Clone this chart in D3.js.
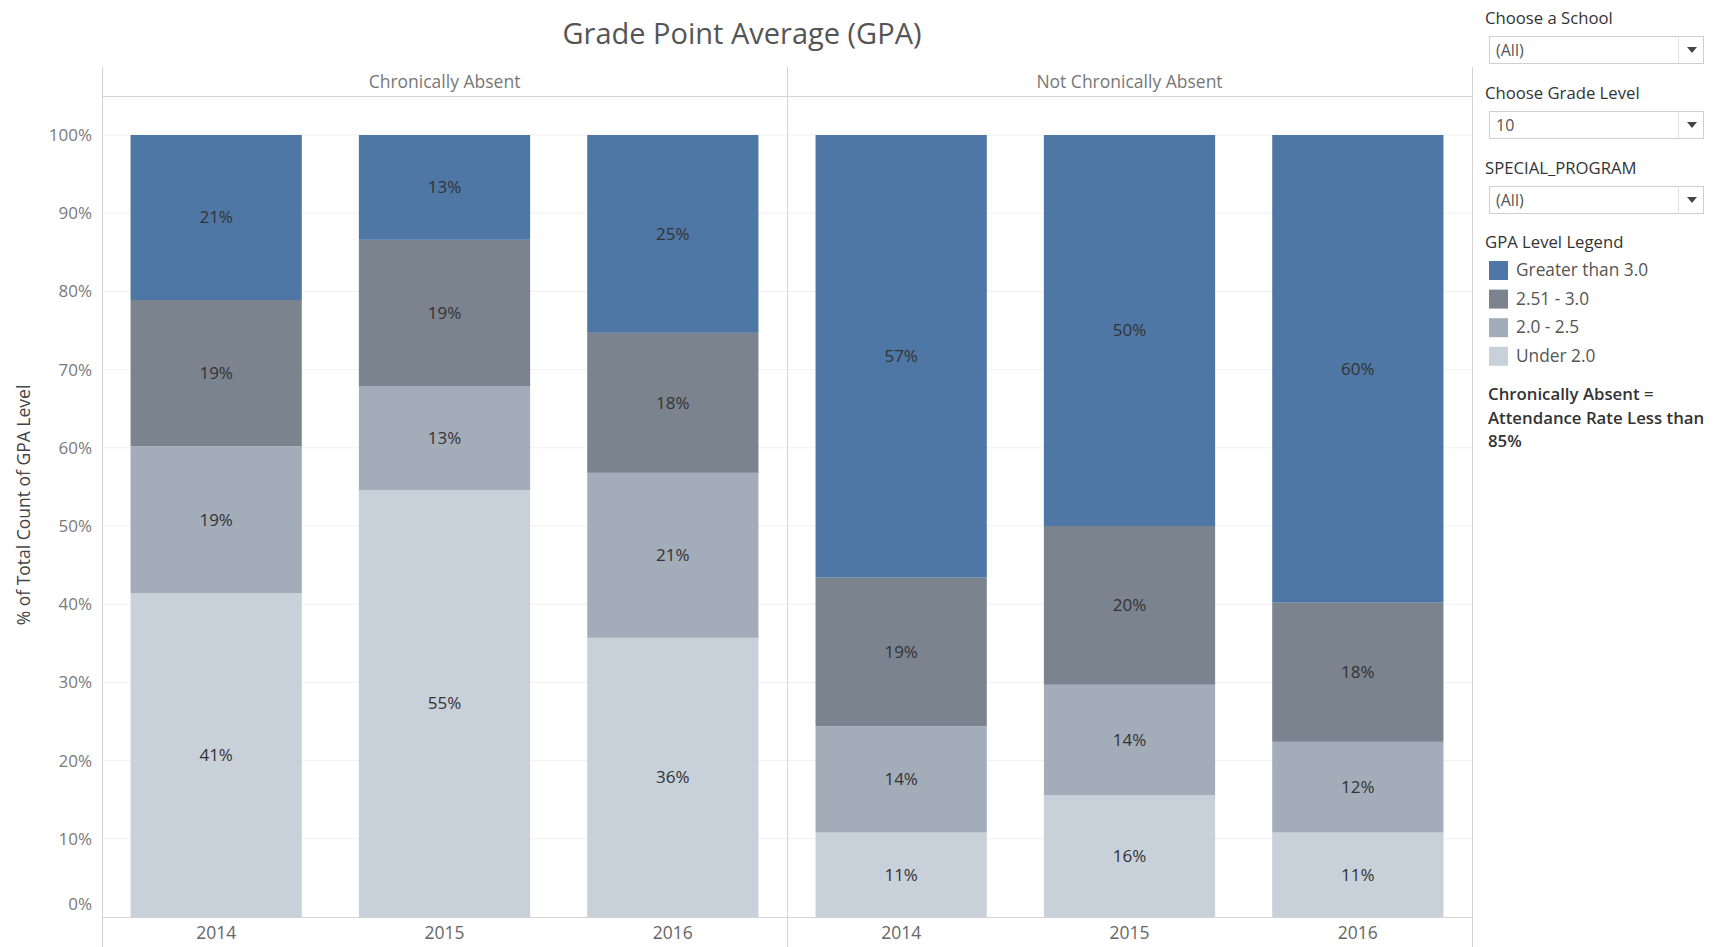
<!DOCTYPE html>
<html>
<head>
<meta charset="utf-8">
<script src="https://cdn.jsdelivr.net/npm/d3@7"></script>
<style>
  html, body { margin: 0; padding: 0; background: #fff; }
  svg { display: block; }
  text { font-family: "Open Sans", Lato, sans-serif; }
</style>
</head>
<body>
<svg id="chart" width="1716" height="947"></svg>
<script>
// ---- data ----
const panels = ["Chronically Absent", "Not Chronically Absent"];
const years = ["2014", "2015", "2016"];
const levels = ["Under 2.0", "2.0 - 2.5", "2.51 - 3.0", "Greater than 3.0"];
const legendOrder = ["Greater than 3.0", "2.51 - 3.0", "2.0 - 2.5", "Under 2.0"];
const levelColors = ["#c8d0da", "#a3acb9", "#7b838f", "#4e77a5"];
// percentages per year, ordered as levels (bottom -> top)
const chronicallyAbsent = [
  [41.4, 18.8, 18.7, 21.1],
  [54.6, 13.3, 18.7, 13.4],
  [35.7, 21.1, 17.9, 25.3]
];
const notChronicallyAbsent = [
  [10.8, 13.6, 19.0, 56.6],
  [15.6, 14.1, 20.3, 50.0],
  [10.8, 11.6, 17.8, 59.8]
];
const yTicks = [0, 10, 20, 30, 40, 50, 60, 70, 80, 90, 100];
const filters = [
  {label: "Choose a School", value: "(All)"},
  {label: "Choose Grade Level", value: "10"},
  {label: "SPECIAL_PROGRAM", value: "(All)"}
];
const noteLines = ["Chronically Absent =", "Attendance Rate Less than", "85%"];

// ---- layout ----
const svg = d3.select("#chart");
const plotLeft = 102, plotRight = 1472;
const headerTop = 67, headerBottom = 96;
const yTop = 135, yBottom = 917;
const FONT = "'Open Sans', Lato, sans-serif";

const y = d3.scaleLinear().domain([0, 100]).range([yBottom, yTop]);
const xPanel = d3.scaleBand().domain(panels).range([plotLeft, plotRight]);
const xYear = d3.scaleBand().domain(years).range([0, xPanel.bandwidth()]).paddingInner(0.25).paddingOuter(0.125);
const color = d3.scaleOrdinal().domain(levels).range(levelColors);

// title
svg.append("text")
  .attr("x", 742).attr("y", 44)
  .attr("text-anchor", "middle")
  .attr("font-size", 29)
  .attr("fill", "#555")
  .text("Grade Point Average (GPA)");

// gridlines
svg.append("g").selectAll("line").data(yTicks.filter(d => d > 0)).join("line")
  .attr("x1", plotLeft).attr("x2", plotRight)
  .attr("y1", d => y(d)).attr("y2", d => y(d))
  .attr("stroke", "#f0f0f0").attr("stroke-width", 1);

// header line
svg.append("line")
  .attr("x1", plotLeft).attr("x2", plotRight)
  .attr("y1", headerBottom + 0.5).attr("y2", headerBottom + 0.5)
  .attr("stroke", "#d4d4d4");

// panel headers
svg.append("g").selectAll("text").data(panels).join("text")
  .attr("x", d => xPanel(d) + xPanel.bandwidth() / 2)
  .attr("y", 88)
  .attr("text-anchor", "middle")
  .attr("font-size", 17.5)
  .attr("fill", "#777")
  .text(d => d);

// bars
const stack = d3.stack().keys(d3.range(levels.length));
panels.forEach((p, pi) => {
  const data = pi === 0 ? chronicallyAbsent : notChronicallyAbsent;
  const series = stack(data);
  const g = svg.append("g").attr("transform", `translate(${xPanel(p)},0)`);
  series.forEach((s, li) => {
    g.selectAll(null).data(s).join("rect")
      .attr("x", (d, i) => xYear(years[i]))
      .attr("width", xYear.bandwidth())
      .attr("y", d => y(d[1]))
      .attr("height", d => y(d[0]) - y(d[1]))
      .attr("fill", color(levels[li]));
    g.selectAll(null).data(s).join("text")
      .attr("x", (d, i) => xYear(years[i]) + xYear.bandwidth() / 2)
      .attr("y", d => (y(d[0]) + y(d[1])) / 2)
      .attr("dy", "0.35em")
      .attr("text-anchor", "middle")
      .attr("font-size", 17)
      .attr("fill", "#333")
      .text((d, i) => Math.round(data[i][li]) + "%");
  });
  // year axis labels
  const ax = d3.axisBottom(xYear).tickSize(0).tickPadding(10);
  const axg = g.append("g").attr("transform", `translate(0,${yBottom})`).call(ax);
  axg.select(".domain").remove();
  axg.selectAll("text").attr("font-size", 17.5).attr("fill", "#666")
    .attr("font-family", FONT);
});

// bottom axis line
svg.append("line")
  .attr("x1", plotLeft).attr("x2", plotRight)
  .attr("y1", yBottom + 0.5).attr("y2", yBottom + 0.5)
  .attr("stroke", "#d4d4d4");

// vertical borders
[plotLeft, xPanel(panels[1]), plotRight].forEach(xv => {
  svg.append("line")
    .attr("x1", xv + 0.5).attr("x2", xv + 0.5)
    .attr("y1", headerTop).attr("y2", 947)
    .attr("stroke", "#d4d4d4");
});

// y axis
const yAxis = d3.axisLeft(y).tickValues(yTicks).tickFormat(d => d + "%").tickSize(0).tickPadding(10);
const yg = svg.append("g").attr("transform", `translate(${plotLeft},0)`).call(yAxis);
yg.select(".domain").remove();
yg.selectAll("text").attr("font-size", 17).attr("fill", "#7a7a7a")
  .attr("font-family", FONT)
  .attr("dy", d => d === 0 ? "-0.45em" : "0.32em");

// y axis title
svg.append("text")
  .attr("transform", `translate(30,505) rotate(-90)`)
  .attr("text-anchor", "middle")
  .attr("font-size", 17.5)
  .attr("fill", "#444")
  .text("% of Total Count of GPA Level");

// ---- right side controls ----
const side = svg.append("g");
const fTop = [18, 93, 168];
filters.forEach((f, i) => {
  const t = fTop[i];
  side.append("text").attr("x", 1485).attr("y", t + 6)
    .attr("font-size", 16.7).attr("fill", "#333").text(f.label);
  side.append("rect").attr("x", 1489.5).attr("y", t + 18.5)
    .attr("width", 214).attr("height", 27)
    .attr("fill", "#fff").attr("stroke", "#cfcfcf");
  side.append("line").attr("x1", 1678.5).attr("x2", 1678.5)
    .attr("y1", t + 19).attr("y2", t + 45).attr("stroke", "#e2e2e2");
  side.append("path")
    .attr("d", `M1687,${t + 29} L1697,${t + 29} L1692,${t + 35} Z`)
    .attr("fill", "#444");
  side.append("text").attr("x", 1496).attr("y", t + 38)
    .attr("font-size", 16).attr("fill", "#555").text(f.value);
});

side.append("text").attr("x", 1485).attr("y", 248)
  .attr("font-size", 16.7).attr("fill", "#333").text("GPA Level Legend");
side.selectAll(".lg").data(legendOrder).join("rect")
  .attr("x", 1489).attr("y", (d, i) => 261 + i * 28.6)
  .attr("width", 19).attr("height", 19)
  .attr("fill", d => color(d));
side.selectAll(".lt").data(legendOrder).join("text")
  .attr("x", 1516).attr("y", (d, i) => 276 + i * 28.6)
  .attr("font-size", 17.3).attr("fill", "#555").text(d => d);

side.selectAll(".nt").data(noteLines).join("text")
  .attr("x", 1488).attr("y", (d, i) => 400 + i * 23.5)
  .attr("font-size", 16.8).attr("font-weight", 600).attr("fill", "#333")
  .text(d => d);
</script>
</body>
</html>
